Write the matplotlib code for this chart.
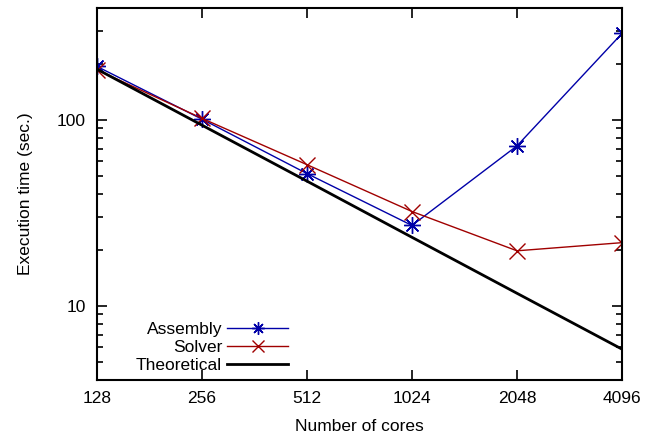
import matplotlib
matplotlib.use("Agg")
import matplotlib.pyplot as plt
from matplotlib.ticker import LogLocator, NullFormatter, FixedLocator, FixedFormatter

plt.rcParams['font.family'] = ['Liberation Sans', 'DejaVu Sans']

# data
cores = [128, 256, 512, 1024, 2048, 4096]
assembly = [194, 101, 51.5, 27.1, 72.6, 292]
solver = [186, 102, 57.5, 32.2, 19.8, 21.9]
theoretical = [187.5, 93.75, 46.9, 23.4, 11.7, 5.86]

FS = 12.5

fig = plt.figure(figsize=(6.59, 4.38), dpi=100)
ax = fig.add_axes([97/659, 1 - 380/438, (622-97)/659, (380-8)/438])

ax.plot(cores, assembly, color='#0000a8', lw=1.0, marker=(8, 2, 0),
        ms=12, mew=1.0, label='Assembly')
ax.plot(cores, solver, color='#a00000', lw=1.0, marker='x',
        ms=11, mew=1.0, label='Solver')
ax.plot(cores, theoretical, color='black', lw=2.0, label='Theoretical')

ax.set_xscale('log', base=2)
ax.set_yscale('log')
ax.set_xlim(128, 4096)
ax.set_ylim(4.0, 400)

ax.xaxis.set_major_locator(FixedLocator(cores))
ax.xaxis.set_major_formatter(FixedFormatter([str(c) for c in cores]))
ax.xaxis.set_minor_locator(FixedLocator([]))
ax.yaxis.set_major_locator(FixedLocator([10, 100]))
ax.yaxis.set_major_formatter(FixedFormatter(['10', '100']))
ax.yaxis.set_minor_locator(LogLocator(base=10, subs=range(2, 10)))
ax.yaxis.set_minor_formatter(NullFormatter())

ax.tick_params(which='both', direction='in', top=True, right=True,
               labelsize=FS, width=1.2)
ax.tick_params(which='major', length=7, pad=8)
ax.tick_params(which='minor', length=4)
for s in ax.spines.values():
    s.set_linewidth(1.5)

ax.set_xlabel('Number of cores', fontsize=FS, labelpad=9)
ax.set_ylabel('Execution time (sec.)', fontsize=FS, labelpad=17)

leg = ax.legend(loc='upper right', bbox_to_anchor=(0.364, 0.157), frameon=False,
                markerfirst=False, fontsize=FS, handlelength=3.5,
                handletextpad=0.3, labelspacing=0.17, borderaxespad=0,
                borderpad=0)
for h in leg.legend_handles[:2]:
    h.set_markersize(9)

fig.savefig('out.png', dpi=100)
